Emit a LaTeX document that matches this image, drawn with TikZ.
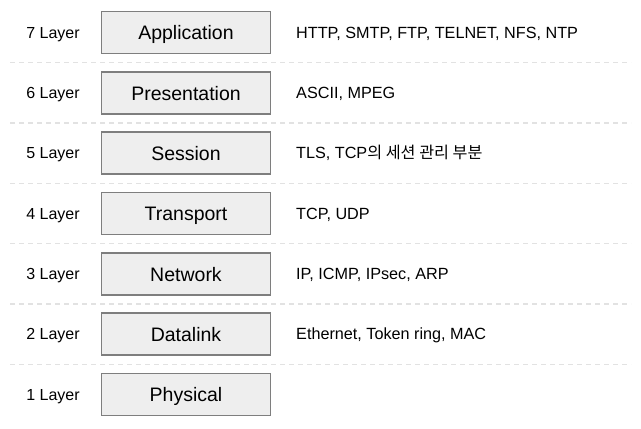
\documentclass[tikz,border=0pt]{standalone}
\usepackage{fontspec}
\setmainfont{Liberation Sans}
\newfontfamily\krfont{Noto Sans CJK KR}
\definecolor{boxfill}{HTML}{EEEEEE}
\definecolor{boxline}{HTML}{7E7E7E}
\definecolor{sepline}{HTML}{E2E2E2}
\begin{document}
\begin{tikzpicture}[x=1pt,y=-1pt,
layer/.style ={rectangle, draw=boxline, line width=1.8pt, fill=boxfill,
  minimum width=169pt, minimum height=42pt, inner sep=0pt,
  text height=18pt, text depth=4pt,
  font=\fontsize{19.5}{22}\selectfont
},
num/.style ={anchor=center, inner sep=0pt, text height=13pt, text depth=1.5pt,
  font=\fontsize{16}{18}\selectfont},
proto/.style ={anchor=west, inner sep=0pt, text height=13pt, text depth=1.5pt,
  font=\fontsize{16.2}{18}\selectfont},
sep/.style ={draw=sepline, line width=1.4pt, dash pattern=on 5pt off 4pt}
]
\useasboundingbox (0,0) rectangle (641,429);
% layer names
\node (app) at (186,32.5) [layer] {Application};
\node (pre) at (186,93) [layer] {Presentation};
\node (ses) at (186,153) [layer] {Session};
\node (tra) at (186,213.5) [layer] {Transport};
\node (net) at (186,274) [layer] {Network};
\node (dat) at (186,334) [layer] {Datalink};
\node (phy) at (186,394.5) [layer] {Physical};
% layer numbers
\node (n7) at (53,32.5) [num] {7 Layer};
\node (n6) at (53,93) [num] {6 Layer};
\node (n5) at (53,153) [num] {5 Layer};
\node (n4) at (53,213.5) [num] {4 Layer};
\node (n3) at (53,274) [num] {3 Layer};
\node (n2) at (53,334) [num] {2 Layer};
\node (n1) at (53,394.5) [num] {1 Layer};
% protocols
\node (p7) at (296,32.5) [proto] {HTTP, SMTP, FTP, TELNET, NFS, NTP};
\node (p6) at (296,93) [proto] {ASCII, MPEG};
\node (p5) at (296,153) [proto] {TLS, TCP{\krfont 의 세션 관리 부분}};
\node (p4) at (296,213.5) [proto] {TCP, UDP};
\node (p3) at (296,274) [proto] {IP, ICMP, IPsec, ARP};
\node (p2) at (296,334) [proto] {Ethernet, Token ring, MAC};
% separators
\draw[sep] (10,62.5) -- (631,62.5);
\draw[sep] (10,123) -- (631,123);
\draw[sep] (10,183.3) -- (631,183.3);
\draw[sep] (10,243.7) -- (631,243.7);
\draw[sep] (10,304) -- (631,304);
\draw[sep] (10,364.3) -- (631,364.3);
\end{tikzpicture}
\end{document}
